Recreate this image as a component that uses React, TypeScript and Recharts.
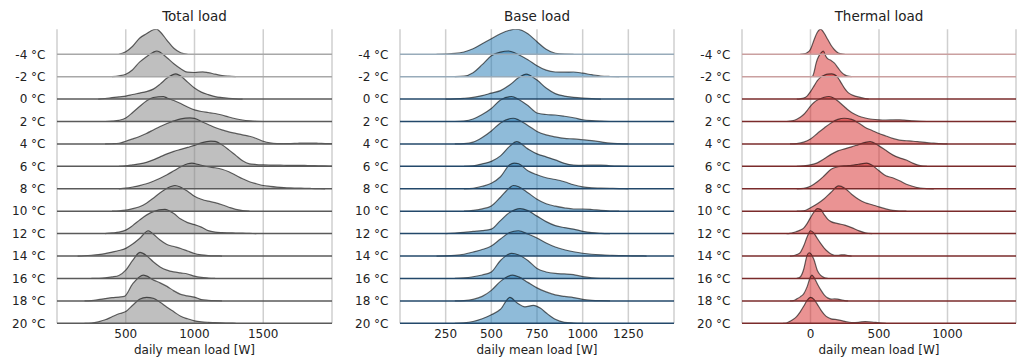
import { ComposedChart, Area, XAxis, YAxis, CartesianGrid, ReferenceLine } from "recharts";

const temps = [-4, -2, 0, 2, 4, 6, 8, 10, 12, 14, 16, 18, 20];

// each ridge: [daily mean load in W, ridge height]
const totalRidges: number[][][] = [
  [[450, 0], [500, 2.5], [550, 8], [600, 16], [650, 20.5], [700, 24.5], [725, 25], [750, 22.5], [800, 14], [850, 6], [900, 1.5], [950, 0]],
  [[400, 0], [450, 0.8], [500, 2.5], [550, 7], [600, 14.5], [650, 20], [700, 24.5], [725, 25.7], [750, 24.5], [800, 19], [850, 13], [900, 8], [950, 4.5], [1000, 4.2], [1060, 4.8], [1100, 4], [1150, 2.5], [1200, 1.2], [1250, 0.5], [1300, 0]],
  [[300, 0], [350, 0.6], [400, 1.5], [450, 2.3], [500, 3], [550, 4.6], [600, 6], [650, 7.5], [700, 10], [750, 15], [800, 21], [865, 25.3], [900, 23], [950, 17], [1000, 11], [1050, 7], [1100, 4.5], [1150, 2.5], [1200, 1.5], [1250, 0.8], [1300, 0.3], [1350, 0]],
  [[350, 0], [400, 0.4], [450, 1.2], [500, 3.5], [550, 9], [600, 15], [650, 20.5], [700, 24], [773, 25], [800, 23.5], [850, 21], [900, 18], [950, 14.5], [1000, 11.7], [1050, 10], [1100, 9], [1150, 8], [1200, 6.5], [1250, 4.5], [1300, 2.8], [1350, 1.5], [1400, 0.7], [1450, 0.2], [1500, 0]],
  [[350, 0], [400, 0.2], [450, 0.7], [500, 2.7], [550, 5], [600, 7.5], [650, 10.5], [700, 14], [750, 17.5], [800, 20.5], [850, 23], [900, 25], [967, 26], [1000, 25.5], [1050, 22.5], [1100, 19.5], [1150, 16.5], [1200, 14], [1250, 12], [1300, 10.5], [1350, 9], [1400, 7.7], [1450, 5.5], [1500, 2.7], [1550, 1], [1600, 0.4], [1650, 0.3], [1700, 0.4], [1750, 0.7], [1800, 0.9], [1850, 0.9], [1900, 0.7], [1950, 0.4], [2000, 0.3]],
  [[450, 0], [500, 0.5], [550, 1.5], [600, 2.5], [650, 4], [700, 6.5], [750, 9.5], [800, 12.5], [850, 15], [900, 17], [950, 19], [1000, 21], [1050, 23.5], [1118, 25.3], [1150, 25], [1200, 21.5], [1250, 16.5], [1300, 11], [1350, 5.5], [1400, 2.5], [1450, 1.8], [1500, 1.5], [1550, 1.3], [1600, 1.2], [1650, 1.1], [1700, 1], [1750, 1], [1800, 0.9], [1850, 0.7], [1900, 0.6], [1950, 0.4], [2000, 0.3]],
  [[450, 0], [500, 0.7], [550, 1.8], [600, 3.2], [650, 5], [700, 7.5], [750, 10.5], [800, 14], [850, 18], [900, 22], [950, 25], [980, 25.7], [1000, 25.3], [1050, 23.5], [1100, 22], [1150, 21], [1200, 19.5], [1250, 17], [1300, 13.5], [1350, 10], [1400, 7], [1450, 5], [1500, 3.3], [1550, 2.4], [1600, 1.7], [1650, 1.2], [1700, 0.9], [1750, 0.7], [1800, 0.5], [1850, 0.3], [1900, 0.2], [1950, 0]],
  [[400, 0], [450, 0.3], [500, 1], [550, 2.5], [600, 4.5], [650, 8], [700, 13], [750, 18.5], [800, 23], [858, 25.7], [900, 24], [950, 20], [1000, 15], [1050, 12], [1100, 10], [1150, 8.5], [1200, 6.5], [1250, 4], [1300, 1.8], [1350, 0.6], [1400, 0]],
  [[350, 0], [400, 0.7], [450, 1.5], [500, 3.5], [550, 8], [600, 13.5], [650, 18.5], [700, 22], [785, 24.3], [850, 20], [900, 14.5], [950, 11], [1000, 9], [1050, 6.5], [1100, 3], [1150, 1.5], [1200, 1], [1250, 0.8], [1300, 0.6], [1350, 0.4], [1400, 0.2], [1450, 0]],
  [[150, 0], [200, 0.3], [250, 0.8], [300, 1.5], [350, 2.5], [400, 4], [450, 5.5], [500, 7.7], [550, 12], [600, 17.5], [664, 25.3], [700, 22], [750, 16], [800, 11.5], [850, 9.5], [900, 7.5], [950, 5], [1000, 2.5], [1050, 1.2], [1100, 0.5], [1150, 0.2], [1200, 0]],
  [[250, 0], [300, 0.2], [350, 0.6], [400, 1.5], [450, 3], [500, 8.3], [550, 18], [604, 26], [650, 23], [700, 16.7], [750, 11.5], [800, 8.3], [850, 6.5], [900, 5.5], [950, 4.5], [1000, 2.3], [1050, 1], [1100, 0.4], [1150, 0]],
  [[200, 0], [250, 0.3], [300, 1.2], [350, 2.3], [400, 3.3], [450, 3.8], [490, 4.5], [550, 17], [628, 25.7], [650, 25], [700, 21], [750, 18], [800, 14.5], [850, 10], [900, 6.5], [950, 5], [1000, 3.8], [1050, 1.3], [1100, 0.6], [1150, 0.2], [1200, 0]],
  [[200, 0], [250, 0.3], [300, 1.5], [350, 3.5], [400, 6.5], [450, 9.5], [500, 11.7], [550, 18], [600, 24], [652, 26], [700, 25], [750, 21], [800, 16], [850, 11.5], [900, 7], [950, 4.5], [1000, 2.5], [1050, 1.5], [1100, 1], [1150, 0.7], [1200, 0.4], [1250, 0.2], [1300, 0]],
];

const baseRidges: number[][][] = [
  [[200, 0], [250, 0.2], [300, 0.8], [350, 2.3], [400, 5.5], [450, 10.5], [500, 15.5], [550, 20.5], [600, 24], [630, 25], [650, 24.8], [700, 20.5], [750, 12.5], [800, 5], [850, 1], [900, 0.2], [950, 0]],
  [[300, 0], [350, 0.5], [400, 4], [450, 12], [500, 21], [550, 24.5], [593, 25.7], [650, 22], [700, 17], [750, 11], [800, 6.5], [850, 4.7], [900, 4.5], [950, 4.7], [1000, 3.5], [1050, 2], [1100, 0.7], [1150, 0.2], [1200, 0]],
  [[250, 0], [300, 0.3], [350, 0.8], [400, 1.7], [450, 3.5], [500, 6], [550, 8.5], [600, 14], [650, 21.5], [690, 25], [750, 19], [800, 11], [850, 5.5], [900, 3], [950, 1.8], [1000, 1], [1050, 0.4], [1100, 0]],
  [[300, 0], [350, 0.5], [400, 2.5], [450, 7], [500, 13], [550, 21.5], [611, 25], [650, 22], [700, 16], [750, 8.5], [800, 7], [850, 6.5], [900, 5.3], [950, 3.8], [1000, 1.8], [1050, 0.8], [1100, 0.3], [1150, 0]],
  [[300, 0], [350, 0.3], [400, 1.8], [450, 6.5], [500, 13], [550, 21], [620, 25.7], [650, 24], [700, 18.5], [750, 12.5], [800, 9], [850, 7], [900, 5.5], [950, 5], [1000, 4.2], [1050, 3.3], [1100, 2], [1150, 0.8], [1200, 0.3], [1250, 0]],
  [[350, 0], [400, 0.5], [450, 2.5], [500, 5], [550, 10.5], [600, 20], [639, 24.7], [700, 17.5], [750, 12.5], [800, 9.5], [850, 6.5], [900, 3], [950, 1.3], [1000, 1], [1050, 1.3], [1100, 1.3], [1150, 0.6], [1200, 0.2], [1250, 0]],
  [[350, 0], [400, 0.5], [450, 2.5], [500, 5.5], [550, 12], [600, 24], [625, 25.7], [650, 25], [700, 18], [750, 14], [800, 11], [850, 9.3], [900, 7], [950, 4], [1000, 1.9], [1050, 1], [1100, 0.7], [1150, 0.4], [1200, 0.2], [1250, 0]],
  [[350, 0], [400, 0.8], [450, 2.3], [500, 5.3], [550, 14], [600, 23.5], [620, 25.7], [650, 24.5], [700, 18.5], [750, 12], [800, 7.5], [850, 5], [900, 3.3], [950, 2.2], [1000, 2.2], [1050, 1.7], [1100, 0.8], [1150, 0.2], [1200, 0]],
  [[250, 0], [300, 0.6], [350, 1.3], [400, 2.2], [450, 3], [500, 4.5], [550, 13], [600, 21], [657, 25], [700, 23], [750, 17.5], [800, 12], [850, 8], [900, 6], [950, 4.5], [1000, 2.3], [1050, 0.9], [1100, 0.3], [1150, 0]],
  [[200, 0], [250, 0.2], [300, 0.7], [350, 1.8], [400, 4], [450, 6.5], [500, 10], [550, 17], [600, 23.5], [648, 25.3], [700, 22], [750, 18], [800, 13], [850, 9], [900, 6.3], [950, 4.3], [1000, 2.8], [1050, 1.8], [1100, 1.2], [1150, 0.8], [1200, 0.5], [1250, 0.3], [1300, 0.2], [1350, 0]],
  [[300, 0], [350, 0.5], [400, 1.7], [450, 3.5], [500, 6.5], [550, 18], [611, 25], [650, 23.5], [700, 18], [750, 10], [800, 6.5], [850, 5], [900, 4.5], [950, 3.8], [1000, 1.8], [1050, 0.7], [1100, 0.2], [1150, 0]],
  [[300, 0], [350, 0.3], [400, 1.5], [450, 4.5], [500, 10.5], [550, 19.5], [617, 25.7], [650, 24], [700, 18.5], [750, 13], [800, 9], [850, 6], [900, 4.5], [950, 3.3], [1000, 1.5], [1050, 0.6], [1100, 0.2], [1150, 0]],
  [[300, 0], [350, 0.4], [400, 1.8], [450, 4.6], [500, 8.5], [550, 14], [602, 26], [640, 20.5], [684, 16.5], [730, 18], [770, 15], [803, 10], [850, 4], [900, 1], [950, 0.3], [1000, 0]],
];

const thermalRidges: number[][][] = [
  [[-75, 0], [-50, 0.3], [-25, 1.5], [0, 5], [25, 14], [50, 22], [74, 25], [100, 21], [125, 15], [150, 9], [175, 4.5], [200, 1.5], [225, 0.4], [250, 0]],
  [[0, 0], [15, 0.5], [25, 4], [40, 13], [50, 17.5], [75, 23.5], [94, 25.7], [110, 21], [125, 18], [150, 16.3], [175, 13.5], [200, 9], [225, 4.5], [250, 1.8], [275, 0.5], [300, 0]],
  [[-100, 0], [-75, 0.3], [-50, 1], [-25, 3], [0, 7.5], [25, 13], [50, 18.5], [75, 22], [100, 23.8], [125, 25], [155, 25.3], [175, 24.5], [200, 21.5], [225, 16], [250, 10.5], [275, 6.5], [300, 4.3], [325, 3], [350, 2.2], [375, 1.3], [400, 0.5], [425, 0]],
  [[-175, 0], [-150, 0.4], [-125, 1], [-100, 2.3], [-75, 4.3], [-50, 7], [-25, 11], [0, 15.5], [25, 19], [50, 21.5], [75, 23], [100, 24.3], [135, 25], [175, 23], [200, 20.5], [225, 17.5], [250, 14.5], [275, 11.5], [300, 9], [350, 5.5], [400, 3.5], [450, 2.3], [500, 1.7], [550, 1.5], [600, 1.6], [650, 1.7], [700, 1.2], [750, 0.6], [800, 0.2], [850, 0]],
  [[-150, 0], [-100, 0.4], [-50, 1.8], [0, 5], [50, 10.5], [100, 16], [150, 21], [200, 24.5], [245, 25.7], [300, 24.5], [350, 21], [400, 16.5], [450, 13.5], [500, 10.5], [550, 8], [600, 5.5], [650, 3.8], [700, 3.2], [750, 2.7], [800, 2], [850, 1.3], [900, 0.8], [950, 0.3], [1000, 0]],
  [[-100, 0], [-50, 0.5], [0, 1.5], [50, 3.5], [100, 7.5], [150, 12], [200, 15.5], [250, 17.5], [300, 19.5], [350, 21.8], [400, 24], [435, 24.7], [500, 20.5], [550, 16], [600, 11.5], [650, 8.5], [700, 6.3], [750, 3], [800, 0.7], [850, 0]],
  [[-100, 0], [-50, 0.4], [0, 2.5], [50, 7], [100, 13], [150, 19.5], [200, 22], [250, 23], [300, 23.5], [350, 24.5], [410, 25.7], [450, 23.5], [500, 18], [550, 13], [600, 11], [650, 8], [700, 4.5], [750, 2.3], [800, 0.8], [850, 0.2], [900, 0]],
  [[-100, 0], [-50, 0.4], [0, 3.5], [50, 7.5], [100, 12.5], [150, 19], [205, 25.3], [250, 23], [300, 17], [350, 12], [400, 8.5], [450, 6.5], [500, 4.3], [550, 2.3], [600, 0.8], [650, 0.2], [700, 0]],
  [[-175, 0], [-150, 0.3], [-125, 1], [-100, 2.2], [-75, 3.5], [-50, 5.5], [-25, 10], [0, 16], [25, 21.5], [50, 25], [75, 24], [100, 19], [125, 14.5], [150, 12], [200, 10], [250, 8.5], [300, 6], [350, 3], [400, 0.8], [450, 0]],
  [[-150, 0], [-125, 0.3], [-100, 1.5], [-75, 3.5], [-50, 10], [-25, 19], [0, 25.3], [25, 23], [50, 17.5], [75, 12.5], [100, 8], [125, 4.5], [150, 2], [175, 0.8], [200, 0.8], [225, 1.2], [250, 1.2], [275, 0.5], [300, 0]],
  [[-100, 0], [-75, 1.5], [-50, 9], [-25, 23], [-10, 25.7], [0, 25], [25, 19], [50, 8], [75, 3], [100, 0.8], [125, 0]],
  [[-150, 0], [-125, 0.3], [-100, 2], [-75, 4], [-50, 7], [-25, 14], [0, 24], [10, 25.7], [25, 23.5], [50, 17], [75, 11], [100, 6], [125, 3], [150, 1.8], [175, 2], [200, 1.8], [225, 1], [250, 0.3], [275, 0]],
  [[-200, 0], [-175, 0.3], [-150, 2], [-125, 4], [-100, 7], [-75, 11.5], [-50, 17], [-25, 23], [0, 26], [25, 24], [50, 19], [75, 13.5], [100, 9], [125, 6], [150, 4.5], [200, 3.5], [250, 2], [300, 0.8], [350, 1], [400, 1.7], [450, 1.3], [500, 0.5], [550, 0]],
];

const totalTicks = [500, 1000, 1500];
const baseTicks = [250, 500, 750, 1000, 1250];
const thermalTicks = [0, 500, 1000];

const ROW_STEP = 22.42;
const Y_MAX = 294;
const offsets = temps.map((_, i) => (temps.length - 1 - i) * ROW_STEP);

const labelFor = (v: number) => {
  const idx = offsets.findIndex((o) => Math.abs(o - v) < 0.01);
  return idx >= 0 ? `${temps[idx]} °C` : "";
};

interface PanelProps {
  title: string;
  ridges: number[][][];
  domain: [number, number];
  ticks: number[];
  left: number;
  yWidth: number;
  right: number;
  fill: string;
  baseline: string;
  baselineTop: string;
}

function RidgePanel({ title, ridges, domain, ticks, left, yWidth, right, fill, baseline, baselineTop }: PanelProps) {
  const width = 340;
  const center = yWidth + (width - yWidth - right) / 2;
  return (
    <div style={{ position: "absolute", left, top: 0, width, height: 360 }}>
      <ComposedChart width={width} height={360} margin={{ top: 29.3, right, bottom: 0, left: 0 }}>
        <CartesianGrid horizontal={false} stroke="#cfcfcf" strokeWidth={1.5} />
        <XAxis
          type="number"
          dataKey="x"
          domain={domain}
          ticks={ticks}
          allowDataOverflow
          interval={0}
          axisLine={false}
          tickLine={false}
          tickSize={0}
          tickMargin={6.5}
          height={36.7}
          tick={{ fill: "#222", fontSize: 12 }}
          label={{ value: "daily mean load [W]", position: "insideBottom", offset: 6.5, fill: "#222", fontSize: 12 }}
        />
        <YAxis
          type="number"
          domain={[0, Y_MAX]}
          ticks={offsets}
          interval={0}
          allowDataOverflow
          width={yWidth}
          axisLine={false}
          tickLine={false}
          tickSize={0}
          tickMargin={11.5}
          tick={{ fill: "#222", fontSize: 12 }}
          tickFormatter={labelFor}
        />
        {offsets.map((o, i) => (
          <ReferenceLine
            key={"base" + i}
            y={o}
            stroke={i < 2 ? baselineTop : baseline}
            strokeWidth={1.5}
            ifOverflow="visible"
          />
        ))}
        {ridges.map((pts, i) => (
          <Area
            key={"ridge" + i}
            data={pts.map(([x, h]) => ({ x, y: offsets[i] + h }))}
            dataKey="y"
            type="monotone"
            baseValue={offsets[i]}
            fill={fill}
            fillOpacity={0.5}
            stroke="#000"
            strokeOpacity={0.6}
            strokeWidth={1.2}
            dot={false}
            activeDot={false}
            isAnimationActive={false}
          />
        ))}
      </ComposedChart>
      <svg width={width} height={30} style={{ position: "absolute", left: 0, top: 0 }}>
        <text x={center} y={20.7} textAnchor="middle" fontSize={13.5} fill="#222">
          {title}
        </text>
      </svg>
    </div>
  );
}

export default function App() {
  return (
    <div
      style={{
        position: "absolute",
        left: 0,
        top: 0,
        width: 1020,
        height: 360,
        background: "#fff",
        fontFamily: "'DejaVu Sans', sans-serif",
      }}
    >
      <RidgePanel
        title="Total load"
        ridges={totalRidges}
        domain={[0, 2000]}
        ticks={totalTicks}
        left={0}
        yWidth={57}
        right={8}
        fill="#808080"
        baseline="#5a5a5a"
        baselineTop="#a8a8a8"
      />
      <RidgePanel
        title="Base load"
        ridges={baseRidges}
        domain={[0, 1500]}
        ticks={baseTicks}
        left={340}
        yWidth={60}
        right={6}
        fill="#1f77b4"
        baseline="#23486a"
        baselineTop="#98abba"
      />
      <RidgePanel
        title="Thermal load"
        ridges={thermalRidges}
        domain={[-500, 1500]}
        ticks={thermalTicks}
        left={680}
        yWidth={62}
        right={4}
        fill="#d62728"
        baseline="#7a2b2b"
        baselineTop="#caa0a0"
      />
    </div>
  );
}
